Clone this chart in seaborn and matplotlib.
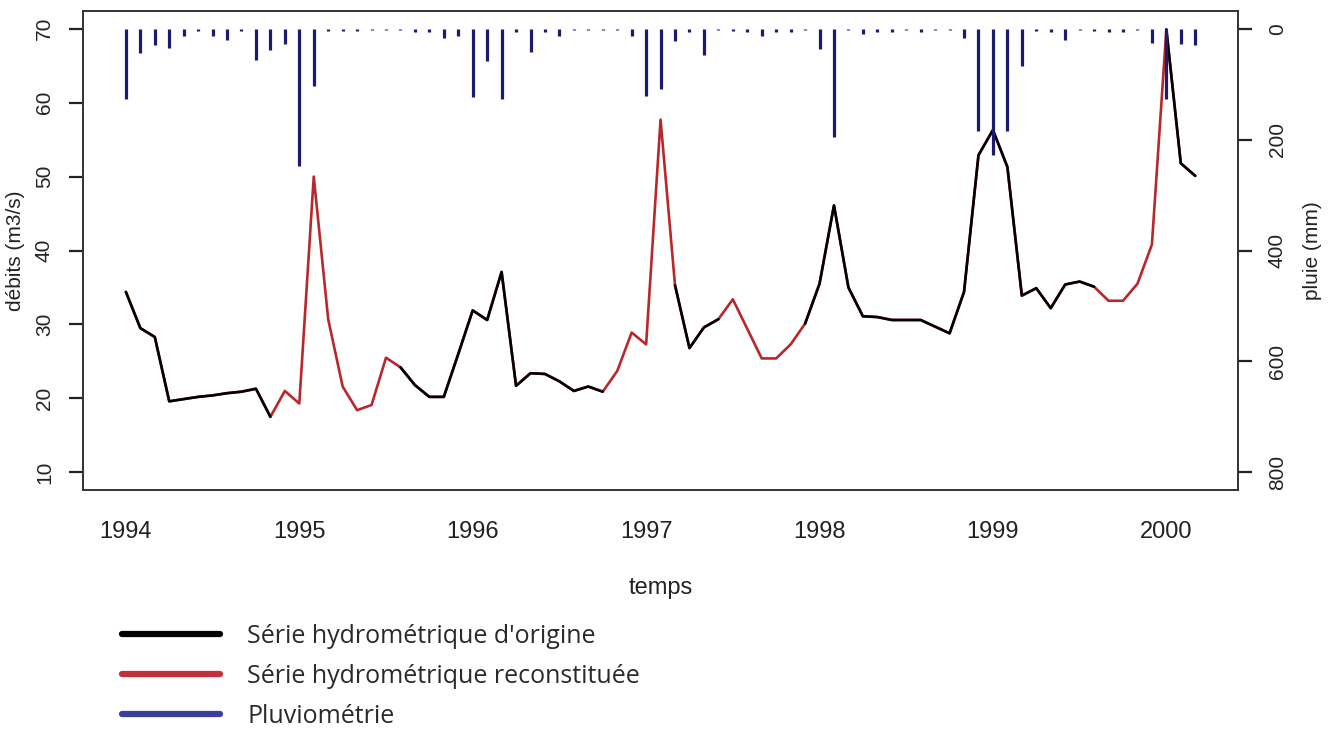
import numpy as np
import pandas as pd
import matplotlib
matplotlib.use("Agg")
import matplotlib.pyplot as plt
from matplotlib.lines import Line2D
import seaborn as sns

# débits mensuels (m3/s), janvier 1994 -> mars 2000
debits = [34.4, 29.5, 28.3, 19.6, 19.9, 20.2, 20.4, 20.7, 20.9, 21.3, 17.5, 21.0,
          19.3, 50.0, 30.7, 21.6, 18.4, 19.1, 25.5, 24.2, 21.8, 20.2, 20.2, 26.0,
          31.9, 30.6, 37.1, 21.7, 23.4, 23.3, 22.3, 21.0, 21.6, 20.9, 23.7, 28.9,
          27.3, 57.7, 35.3, 26.8, 29.6, 30.7, 33.4, 29.4, 25.4, 25.4, 27.3, 30.1,
          35.5, 46.1, 35.0, 31.1, 31.0, 30.6, 30.6, 30.6, 29.7, 28.8, 34.4, 52.9,
          56.3, 51.3, 33.9, 34.9, 32.2, 35.4, 35.8, 35.1, 33.2, 33.2, 35.5, 40.8,
          69.9, 51.8, 50.1]

# pluie mensuelle (mm)
pluie = [127, 44, 30, 35, 13, 4, 13, 20, 4, 57, 38, 27,
         247, 104, 4, 4, 4, 3, 3, 3, 5, 5, 17, 14,
         124, 59, 127, 5, 42, 5, 13, 3, 3, 3, 3, 13,
         122, 109, 23, 6, 47, 3, 4, 5, 13, 5, 5, 3,
         37, 195, 3, 10, 5, 5, 3, 5, 3, 3, 17, 184,
         228, 184, 67, 4, 6, 20, 3, 4, 5, 5, 3, 25,
         127, 28, 30]

# mois (index) dont la valeur est reconstituée
mois_reconstitues = [11, 12, 13, 14, 15, 16, 17, 18,
                     34, 35, 36, 37,
                     42, 43, 44, 45, 46,
                     68, 69, 70, 71]

annees = [1994, 1995, 1996, 1997, 1998, 1999, 2000]
ticks_debit = [10, 20, 30, 40, 50, 60, 70]
ticks_pluie = [0, 200, 400, 600, 800]

df = pd.DataFrame({
    "temps": 1994 + np.arange(len(debits)) / 12,
    "debit": debits,
    "pluie": pluie,
})
df["origine"] = ~df.index.isin(mois_reconstitues)
df_orig = df[df["origine"]].copy()
df_orig["seg"] = (df_orig.index.to_series().diff() != 1).cumsum()

sns.set_theme(style="white")
plt.rcParams["font.family"] = ["Liberation Sans", "DejaVu Sans"]

fig = plt.figure(figsize=(13.31, 7.33), dpi=100)
ax = fig.add_axes([0.0624, 0.3315, 0.8677, 0.6535])
ax2 = ax.twinx()

sns.lineplot(data=df, x="temps", y="debit", color="#b8282b", linewidth=1.9,
             estimator=None, ax=ax)
sns.lineplot(data=df_orig, x="temps", y="debit", units="seg", estimator=None,
             color="black", linewidth=1.9, ax=ax)

ax2.vlines(df["temps"], 0, df["pluie"], color="#1b1b70", linewidth=2.3)

ax.set_xlim(1993.753, 2000.413)
ax.set_ylim(7.6, 72.4)
ax2.set_ylim(832, -32)

ax.set_xticks(annees)
ax.set_xticklabels([str(a) for a in annees], fontfamily=["Liberation Sans Narrow", "Liberation Sans"],
                   fontsize=17)
ax.set_yticks(ticks_debit)
ax.set_yticklabels([str(v) for v in ticks_debit], fontsize=15, rotation=90, va="center")
ax2.set_yticks(ticks_pluie)
ax2.set_yticklabels([str(v) for v in ticks_pluie], fontsize=15, rotation=90, va="center")

ax.tick_params(axis="x", direction="out", length=9.5, width=1.0, pad=13, colors="#222222")
ax.tick_params(axis="y", direction="out", length=10, width=1.6, pad=11, colors="#222222")
ax2.tick_params(axis="y", direction="out", length=10, width=1.6, pad=11.5, colors="#222222")

ax.set_xlabel("temps", fontsize=17, labelpad=24,
              fontfamily=["Liberation Sans Narrow", "Liberation Sans"], color="#222222")
ax.set_ylabel("débits (m3/s)", fontsize=15, labelpad=7, color="#222222")
ax2.set_ylabel("pluie (mm)", fontsize=15, labelpad=12, color="#222222")

for a in (ax, ax2):
    for s in a.spines.values():
        s.set_color("#333333")
        s.set_linewidth(1.2)

handles = [
    Line2D([], [], color="black", linewidth=4.5),
    Line2D([], [], color="#c3303a", linewidth=4.5),
    Line2D([], [], color="#3b3f9c", linewidth=4.5),
]
labels = ["Série hydrométrique d'origine",
          "Série hydrométrique reconstituée",
          "Pluviométrie"]
leg = fig.legend(handles, labels, loc="upper left", bbox_to_anchor=(0.0917, 0.149),
                 frameon=False, prop={"family": "Open Sans", "size": 18},
                 handlelength=3.9, handletextpad=1.1, labelspacing=0.6,
                 borderpad=0, borderaxespad=0)
for t in leg.get_texts():
    t.set_color("#2a2a2a")

fig.savefig("out.png", dpi=100)
plt.close(fig)
